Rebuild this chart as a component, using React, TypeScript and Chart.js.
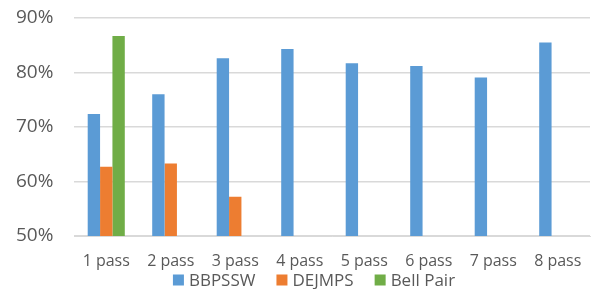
import React, { useEffect, useRef } from "react";
import { Chart, registerables } from "chart.js";

Chart.register(...registerables);

const categories = ["1 pass", "2 pass", "3 pass", "4 pass", "5 pass", "6 pass", "7 pass", "8 pass"];
const seriesNames = ["BBPSSW", "DEJMPS", "Bell Pair"];
const seriesColors = ["#5B9BD5", "#ED7D31", "#70AD47"];
const bbpssw = [72.4, 76.0, 82.6, 84.3, 81.7, 81.2, 79.1, 85.5];
const dejmps = [62.7, 63.3, 57.2, null, null, null, null, null];
const bellPair = [86.7, null, null, null, null, null, null, null];
const yTicks = [50, 60, 70, 80, 90];

const FONT = "'Open Sans', sans-serif";
const TEXT_COLOR = "#595959";

// Legend drawn from the chart's own datasets (Excel-style spacing)
const bottomLegend = {
  id: "bottomLegend",
  afterDraw(chart: any) {
    const ctx = chart.ctx;
    const items = chart.data.datasets.map((d: any) => ({ text: d.label, color: d.backgroundColor }));
    const box = 11;
    const gapText = 5;
    const gapItem = 21;
    ctx.save();
    ctx.font = `17px ${FONT}`;
    const widths = items.map((it: any) => box + gapText + ctx.measureText(it.text).width);
    const total = widths.reduce((a: number, b: number) => a + b, 0) + gapItem * (items.length - 1);
    const center = (chart.chartArea.left + chart.chartArea.right) / 2 - 18;
    let x = center - total / 2;
    const y = chart.height - 9;
    ctx.textBaseline = "middle";
    ctx.textAlign = "left";
    items.forEach((it: any, i: number) => {
      ctx.fillStyle = it.color;
      ctx.fillRect(x, y - box / 2, box, box);
      ctx.fillStyle = TEXT_COLOR;
      ctx.fillText(it.text, x + box + gapText, y + 1);
      x += widths[i] + gapItem;
    });
    ctx.restore();
  },
};

export default function App() {
  const ref = useRef<HTMLCanvasElement>(null);

  useEffect(() => {
    document.body.style.margin = "0";
    const canvas = ref.current;
    if (!canvas) return;
    const chart = new Chart(canvas, {
      type: "bar",
      data: {
        labels: categories,
        datasets: [
          { label: seriesNames[0], data: bbpssw, backgroundColor: seriesColors[0] },
          { label: seriesNames[1], data: dejmps, backgroundColor: seriesColors[1] },
          { label: seriesNames[2], data: bellPair, backgroundColor: seriesColors[2] },
        ],
      },
      plugins: [bottomLegend],
      options: {
        responsive: false,
        animation: false,
        devicePixelRatio: 1,
        layout: { padding: { left: 16, right: 1, top: 18, bottom: 14 } },
        datasets: {
          bar: { barPercentage: 1, categoryPercentage: 0.575 },
        },
        plugins: {
          tooltip: { enabled: false },
          legend: { display: false },
        },
        scales: {
          x: {
            grid: { display: false, drawTicks: false },
            border: { color: "#D9D9D9" },
            ticks: { font: { family: FONT, size: 16 }, color: TEXT_COLOR, padding: 16, maxRotation: 0 },
            afterFit: (scale: any) => {
              scale.height = 39;
              scale.paddingLeft = 0;
              scale.paddingRight = 0;
            },
          },
          y: {
            min: 50,
            max: 90,
            afterBuildTicks: (axis: any) => {
              axis.ticks = yTicks.map((v) => ({ value: v }));
            },
            afterFit: (scale: any) => {
              scale.width = 58;
            },
            grid: { color: "#D9D9D9", lineWidth: 1.5, drawTicks: false },
            border: { display: false },
            ticks: {
              font: { family: FONT, size: 19 },
              color: TEXT_COLOR,
              padding: 0,
              crossAlign: "far",
              callback: (v: any) => v + "%",
            },
          },
        },
      },
    });
    return () => chart.destroy();
  }, []);

  return <canvas ref={ref} width={591} height={289} style={{ display: "block" }} />;
}
